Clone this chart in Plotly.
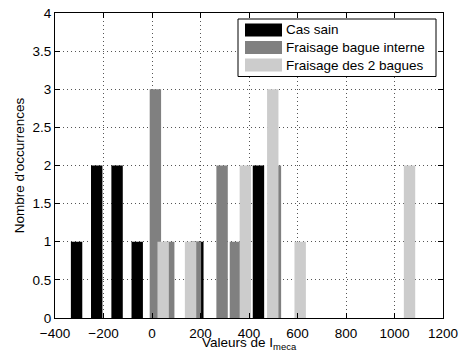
import plotly.graph_objects as go

# ---- data ----
series_names = ["Cas sain", "Fraisage bague interne", "Fraisage des 2 bagues"]
centers_sain = [-311, -228, -144, -61, 22, 106, 189, 272, 356, 439]
counts_sain = [1, 2, 2, 1, 0, 0, 1, 0, 0, 2]
centers_interne = [14, 69, 124, 179, 234, 289, 344, 399, 454, 509]
counts_interne = [3, 1, 0, 1, 0, 2, 1, 0, 0, 2]
centers_2bagues = [46, 159, 272, 385, 498, 611, 724, 837, 950, 1062]
counts_2bagues = [1, 1, 0, 2, 3, 1, 0, 0, 0, 2]
x_ticks = [-400, -200, 0, 200, 400, 600, 800, 1000, 1200]
y_ticks = [0, 0.5, 1, 1.5, 2, 2.5, 3, 3.5, 4]
x_title = "Valeurs de I<sub>meca</sub>"
y_title = "Nombre d'occurrences"

colors = ["#000000", "#808080", "#cccccc"]
bar_width = 47

W, H = 461, 362
L, R, T, B = 55, 18, 13, 44
FONT = "Liberation Sans, Arial, Helvetica, sans-serif"
FS = 13.5

fig = go.Figure()
for name, xs, ys, c in zip(series_names,
                           [centers_sain, centers_interne, centers_2bagues],
                           [counts_sain, counts_interne, counts_2bagues],
                           colors):
    fig.add_trace(go.Bar(x=xs, y=ys, name=name, width=bar_width,
                         marker=dict(color=c, line=dict(width=0)),
                         showlegend=False))

pw = W - L - R
ph = H - T - B

def px_x(p):
    return (p - L) / pw

def px_y(p):
    return (H - B - p) / ph

# custom legend (MATLAB style)
shapes = [dict(type="rect", xref="paper", yref="paper",
               x0=px_x(238), x1=px_x(436), y0=px_y(76.5), y1=px_y(19),
               line=dict(color="black", width=1), fillcolor="white", layer="above")]
annotations = []
row_y = [30, 47.5, 65]
for name, c, yc in zip(series_names, colors, row_y):
    shapes.append(dict(type="rect", xref="paper", yref="paper",
                       x0=px_x(245), x1=px_x(282), y0=px_y(yc + 6.5), y1=px_y(yc - 6.5),
                       line=dict(width=0), fillcolor=c, layer="above"))
    annotations.append(dict(text=name, xref="paper", yref="paper",
                            x=px_x(284), y=px_y(yc), xanchor="left", yanchor="middle",
                            showarrow=False, font=dict(size=FS, color="black", family=FONT)))

# x axis title placed as in the reference
annotations.append(dict(text=x_title, xref="paper", yref="paper",
                        x=0.5, y=px_y(333), xanchor="center", yanchor="top",
                        showarrow=False, font=dict(size=FS, color="black", family=FONT)))

axis_common = dict(showline=True, linecolor="black", linewidth=1, mirror="allticks",
                   ticks="inside", ticklen=5, tickcolor="black",
                   showgrid=True, gridcolor="#555555", griddash="1px,3px", gridwidth=1,
                   zeroline=False, ticklabeloverflow="allow",
                   tickfont=dict(size=FS, color="black", family=FONT))

fig.update_layout(
    width=W, height=H,
    margin=dict(l=L, r=R, t=T, b=B, autoexpand=False),
    paper_bgcolor="white", plot_bgcolor="white",
    barmode="overlay",
    font=dict(family=FONT, color="black"),
    xaxis=dict(range=[-400, 1200], tickvals=x_ticks,
               ticktext=[str(v).replace("-", "\u2212") for v in x_ticks],
               ticklabelstandoff=3,
               **axis_common),
    yaxis=dict(range=[0, 4], tickvals=y_ticks, ticktext=[("%g" % v) for v in y_ticks],
               title=dict(text=y_title, font=dict(size=FS), standoff=4),
               **axis_common),
    shapes=shapes,
    annotations=annotations,
)

fig.write_html("out.html", config={"displayModeBar": False},
               post_script="document.body.style.margin='0';document.body.style.overflow='hidden';")
